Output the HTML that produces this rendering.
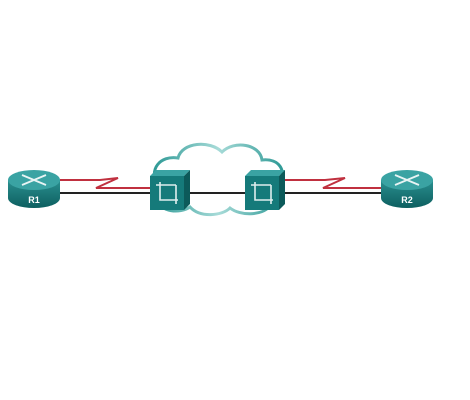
<!DOCTYPE html>
<html><head><style>body{margin:0;background:#fff}svg{display:block}</style></head><body>
<svg width="470" height="400" viewBox="0 0 470 400" xmlns="http://www.w3.org/2000/svg">
<defs>
<linearGradient id="rt" x1="0" y1="0" x2="0" y2="1"><stop offset="0" stop-color="#2a8f8f"/><stop offset="1" stop-color="#0d5f60"/></linearGradient>
<linearGradient id="cl" x1="0" y1="0" x2="1" y2="0"><stop offset="0" stop-color="#2f9a96"/><stop offset="0.5" stop-color="#a7dbd8"/><stop offset="1" stop-color="#2f9a96"/></linearGradient>
</defs>
<path d="M158,185 C148,170 160,155 178,158 C182,142 210,140 222,152 C234,140 260,144 262,160 C280,158 286,172 280,180 M158,200 C160,212 180,214 190,207 C200,218 222,216 230,208 C240,216 262,216 270,206" fill="none" stroke="url(#cl)" stroke-width="3"/>
<polyline points="60,180 100,180 118,178 96,188 150,188" fill="none" stroke="#c0303f" stroke-width="2"/>
<polyline points="283,180 325,180 345,178 323,188 383,188" fill="none" stroke="#c0303f" stroke-width="2"/>
<line x1="60" y1="193" x2="385" y2="193" stroke="#222" stroke-width="2"/>
<g>
<path d="M8,180 L8,198 A26,10 0 0 0 60,198 L60,180 Z" fill="url(#rt)"/>
<ellipse cx="34" cy="180" rx="26" ry="10" fill="#3aa3a3"/>
<path d="M22,175 L46,185 M22,185 L46,175" stroke="#e8f4f4" stroke-width="1.8"/>
<text x="34" y="203" font-family="Liberation Sans,sans-serif" font-size="9" font-weight="bold" fill="#fff" text-anchor="middle">R1</text>
</g>
<g>
<path d="M381,180 L381,198 A26,10 0 0 0 433,198 L433,180 Z" fill="url(#rt)"/>
<ellipse cx="407" cy="180" rx="26" ry="10" fill="#3aa3a3"/>
<path d="M395,175 L419,185 M395,185 L419,175" stroke="#e8f4f4" stroke-width="1.8"/>
<text x="407" y="203" font-family="Liberation Sans,sans-serif" font-size="9" font-weight="bold" fill="#fff" text-anchor="middle">R2</text>
</g>
<g>
<polygon points="150,176 156,170 190,170 184,176" fill="#3aa3a3"/>
<polygon points="184,176 190,170 190,204 184,210" fill="#0c5a5a"/>
<rect x="150" y="176" width="34" height="34" fill="#157a7a"/>
<path d="M156,185 L176,185 M176,185 L176,204 M160,182 L160,200 L178,200" stroke="#dfeeee" stroke-width="1.6" fill="none"/>
</g>
<g>
<polygon points="245,176 251,170 285,170 279,176" fill="#3aa3a3"/>
<polygon points="279,176 285,170 285,204 279,210" fill="#0c5a5a"/>
<rect x="245" y="176" width="34" height="34" fill="#157a7a"/>
<path d="M251,185 L271,185 M271,185 L271,204 M255,182 L255,200 L273,200" stroke="#dfeeee" stroke-width="1.6" fill="none"/>
</g>
</svg>
</body></html>
